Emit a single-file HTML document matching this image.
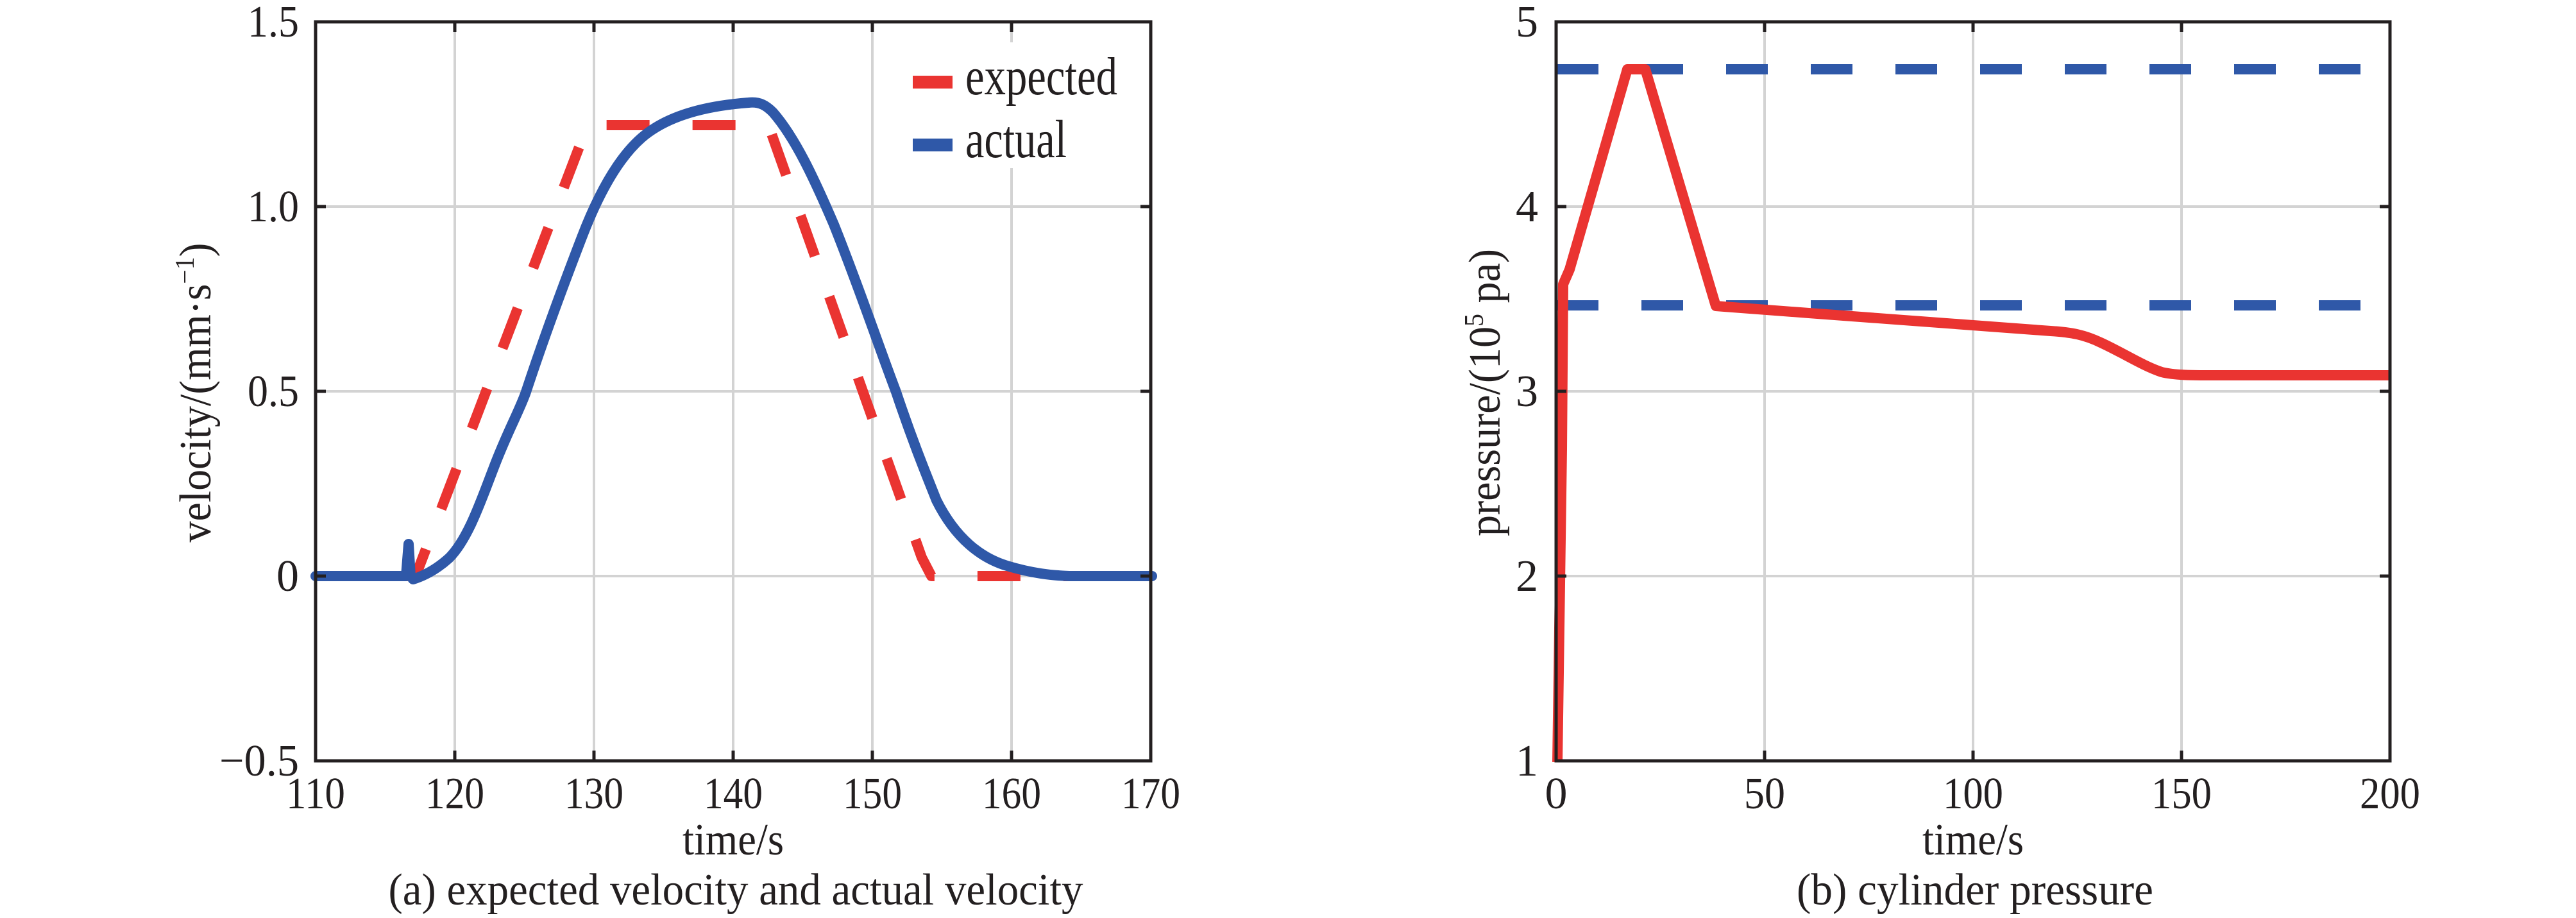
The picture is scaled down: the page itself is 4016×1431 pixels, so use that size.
<!DOCTYPE html>
<html><head><meta charset="utf-8"><style>
html,body{margin:0;padding:0;background:#fff;}
svg{display:block;}
text{font-family:"Liberation Serif","Times New Roman",serif;fill:#231f20;}
</style></head><body>
<svg width="4016" height="1431" viewBox="0 0 4016 1431" xmlns="http://www.w3.org/2000/svg" font-family="Liberation Serif, serif">
<!-- LEFT PANEL -->
<g stroke="#d3d3d3" stroke-width="4" fill="none">
<line x1="709" y1="34" x2="709" y2="1186"/>
<line x1="926" y1="34" x2="926" y2="1186"/>
<line x1="1143" y1="34" x2="1143" y2="1186"/>
<line x1="1360" y1="34" x2="1360" y2="1186"/>
<line x1="1577" y1="34" x2="1577" y2="1186"/>
<line x1="492" y1="322" x2="1794" y2="322"/>
<line x1="492" y1="610" x2="1794" y2="610"/>
<line x1="492" y1="898" x2="1794" y2="898"/>
</g>
<rect x="1405" y="66" width="385" height="196" fill="#fff"/>
<!-- expected -->
<polyline fill="none" stroke="#ea3431" stroke-width="16" stroke-dasharray="67,67" stroke-linejoin="round"
 points="492,898 648,898 916,195 1198,195 1437,869 1452,898 1796,898"/>
<!-- actual -->
<path fill="none" stroke="#2f58a8" stroke-width="16" stroke-linejoin="round" stroke-linecap="round"
 d="M492,898 L633,898 L637,848 L640,898 L644,903 C660,898 680,888 700,870 C730,840 750,780 769,731 C790,675 810,640 820,611 C850,520 880,440 907,370 C930,310 960,250 1000,215 C1040,180 1100,165 1167,160 C1185,158 1195,165 1205,175 C1240,215 1270,280 1300,350 C1340,450 1370,540 1397,611 C1420,680 1440,730 1460,780 C1490,840 1530,870 1570,882 C1610,894 1640,897 1667,898 L1796,898"/>
<!-- axes box -->
<rect x="492" y="34" width="1302" height="1152" fill="none" stroke="#231f20" stroke-width="5"/>
<g stroke="#231f20" stroke-width="5">
<line x1="709" y1="1186" x2="709" y2="1170"/><line x1="926" y1="1186" x2="926" y2="1170"/><line x1="1143" y1="1186" x2="1143" y2="1170"/><line x1="1360" y1="1186" x2="1360" y2="1170"/><line x1="1577" y1="1186" x2="1577" y2="1170"/>
<line x1="709" y1="34" x2="709" y2="50"/><line x1="926" y1="34" x2="926" y2="50"/><line x1="1143" y1="34" x2="1143" y2="50"/><line x1="1360" y1="34" x2="1360" y2="50"/><line x1="1577" y1="34" x2="1577" y2="50"/>
<line x1="492" y1="322" x2="508" y2="322"/><line x1="492" y1="610" x2="508" y2="610"/><line x1="492" y1="898" x2="508" y2="898"/>
<line x1="1794" y1="322" x2="1778" y2="322"/><line x1="1794" y1="610" x2="1778" y2="610"/><line x1="1794" y1="898" x2="1778" y2="898"/>
</g>
<!-- legend -->
<line x1="1423" y1="128" x2="1485" y2="128" stroke="#ea3431" stroke-width="20"/>
<line x1="1423" y1="226" x2="1485" y2="226" stroke="#2f58a8" stroke-width="20"/>
<text x="1505" y="147" font-size="84" textLength="237" lengthAdjust="spacingAndGlyphs">expected</text>
<text x="1505" y="245" font-size="84" textLength="158" lengthAdjust="spacingAndGlyphs">actual</text>
<!-- tick labels -->
<g font-size="70" text-anchor="middle">
<text x="492" y="1260" textLength="92" lengthAdjust="spacingAndGlyphs">110</text>
<text x="709" y="1260" textLength="92" lengthAdjust="spacingAndGlyphs">120</text>
<text x="926" y="1260" textLength="92" lengthAdjust="spacingAndGlyphs">130</text>
<text x="1143" y="1260" textLength="92" lengthAdjust="spacingAndGlyphs">140</text>
<text x="1360" y="1260" textLength="92" lengthAdjust="spacingAndGlyphs">150</text>
<text x="1577" y="1260" textLength="92" lengthAdjust="spacingAndGlyphs">160</text>
<text x="1794" y="1260" textLength="92" lengthAdjust="spacingAndGlyphs">170</text>
</g>
<g font-size="70" text-anchor="end">
<text x="466" y="57" textLength="80" lengthAdjust="spacingAndGlyphs">1.5</text>
<text x="466" y="345" textLength="80" lengthAdjust="spacingAndGlyphs">1.0</text>
<text x="466" y="633" textLength="80" lengthAdjust="spacingAndGlyphs">0.5</text>
<text x="466" y="921">0</text>
<text x="466" y="1209" textLength="124" lengthAdjust="spacingAndGlyphs">−0.5</text>
</g>
<text x="1143" y="1332" font-size="70" text-anchor="middle" textLength="158" lengthAdjust="spacingAndGlyphs">time/s</text>
<text x="1147" y="1410" font-size="70" text-anchor="middle" textLength="1083" lengthAdjust="spacingAndGlyphs">(a) expected velocity and actual velocity</text>
<text transform="translate(328,612) rotate(-90)" font-size="70" text-anchor="middle" textLength="467" lengthAdjust="spacingAndGlyphs">velocity/(mm·s<tspan font-size="42" dy="-26">−1</tspan><tspan dy="26">)</tspan></text>

<!-- RIGHT PANEL -->
<g stroke="#d3d3d3" stroke-width="4" fill="none">
<line x1="2751" y1="34" x2="2751" y2="1186"/>
<line x1="3076" y1="34" x2="3076" y2="1186"/>
<line x1="3401" y1="34" x2="3401" y2="1186"/>
<line x1="2426" y1="322" x2="3726" y2="322"/>
<line x1="2426" y1="610" x2="3726" y2="610"/>
<line x1="2426" y1="898" x2="3726" y2="898"/>
</g>
<g stroke="#2f58a8" stroke-width="16" stroke-dasharray="65,67" fill="none">
<line x1="2427" y1="108" x2="3686" y2="108"/>
<line x1="2427" y1="476" x2="3686" y2="476"/>
</g>
<path fill="none" stroke="#ea3431" stroke-width="16" stroke-linejoin="round"
 d="M2428,1188 L2435,700 L2437,443 L2447,420 L2537,108 L2565,108 L2675,477 L2820,488 L3197,516 C3230,518 3250,522 3275,534 C3310,550 3340,570 3370,580 C3390,585 3420,585 3438,585 L3726,585"/>
<rect x="2426" y="34" width="1300" height="1152" fill="none" stroke="#231f20" stroke-width="5"/>
<g stroke="#231f20" stroke-width="5">
<line x1="2751" y1="1186" x2="2751" y2="1170"/><line x1="3076" y1="1186" x2="3076" y2="1170"/><line x1="3401" y1="1186" x2="3401" y2="1170"/>
<line x1="2751" y1="34" x2="2751" y2="50"/><line x1="3076" y1="34" x2="3076" y2="50"/><line x1="3401" y1="34" x2="3401" y2="50"/>
<line x1="2426" y1="322" x2="2442" y2="322"/><line x1="2426" y1="610" x2="2442" y2="610"/><line x1="2426" y1="898" x2="2442" y2="898"/>
<line x1="3726" y1="322" x2="3710" y2="322"/><line x1="3726" y1="610" x2="3710" y2="610"/><line x1="3726" y1="898" x2="3710" y2="898"/>
</g>
<g font-size="70" text-anchor="middle">
<text x="2426" y="1260">0</text>
<text x="2751" y="1260" textLength="64" lengthAdjust="spacingAndGlyphs">50</text>
<text x="3076" y="1260" textLength="94" lengthAdjust="spacingAndGlyphs">100</text>
<text x="3401" y="1260" textLength="94" lengthAdjust="spacingAndGlyphs">150</text>
<text x="3726" y="1260" textLength="94" lengthAdjust="spacingAndGlyphs">200</text>
</g>
<g font-size="70" text-anchor="end">
<text x="2398" y="57">5</text>
<text x="2398" y="345">4</text>
<text x="2398" y="633">3</text>
<text x="2398" y="921">2</text>
<text x="2398" y="1209">1</text>
</g>
<text x="3076" y="1332" font-size="70" text-anchor="middle" textLength="158" lengthAdjust="spacingAndGlyphs">time/s</text>
<text x="3079" y="1410" font-size="70" text-anchor="middle" textLength="556" lengthAdjust="spacingAndGlyphs">(b) cylinder pressure</text>
<text transform="translate(2338,612) rotate(-90)" font-size="70" text-anchor="middle" textLength="448" lengthAdjust="spacingAndGlyphs">pressure/(10<tspan font-size="42" dy="-26">5</tspan><tspan dy="26"> pa)</tspan></text>
</svg>
</body></html>
